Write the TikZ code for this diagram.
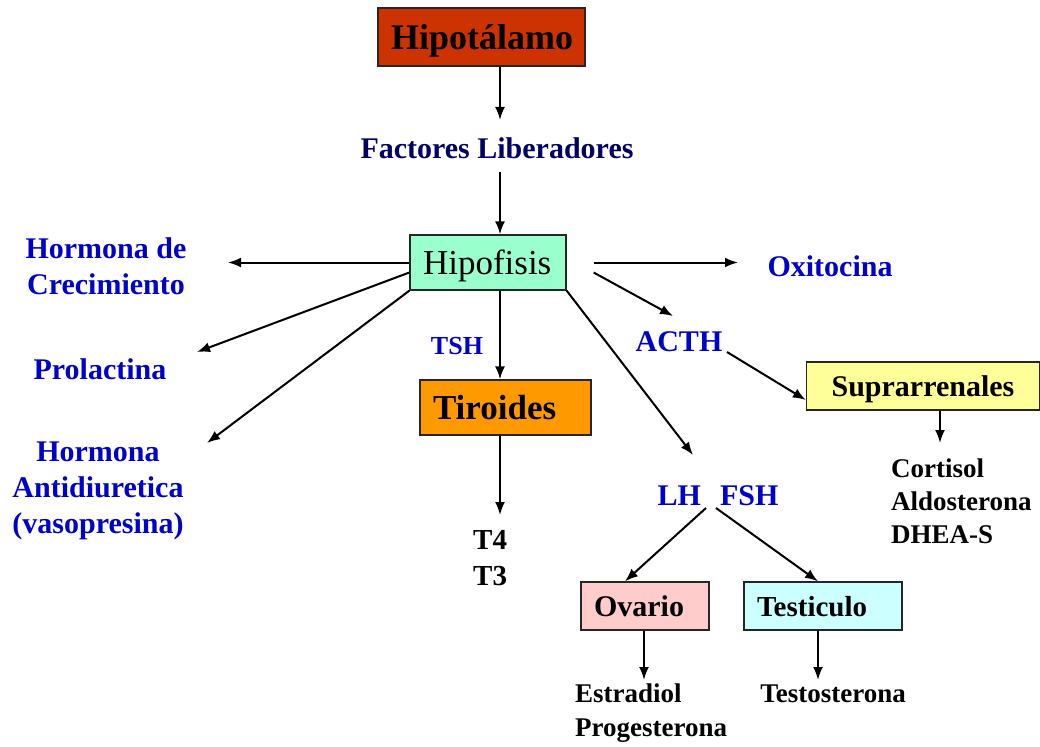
\documentclass[tikz,border=0pt]{standalone}
\usepackage{fontspec}
\setmainfont{Liberation Serif}
\usepackage{tikz}
\usetikzlibrary{positioning, arrows.meta}

\definecolor{hipotred}{HTML}{CC3300}
\definecolor{hipofgreen}{HTML}{99FFCC}
\definecolor{tiroorange}{HTML}{FF9900}
\definecolor{suprayellow}{HTML}{FFFF99}
\definecolor{ovariopink}{HTML}{FFCCCC}
\definecolor{testicyan}{HTML}{CCFFFF}
\definecolor{hormblue}{HTML}{0000CC}
\definecolor{factnavy}{HTML}{000066}

\begin{document}
\begin{tikzpicture}[
    x=1pt, y=-1pt,
    box/.style={draw=black!85, line width=1.3pt, inner xsep=13pt, inner ysep=0pt, text depth=0pt, align=left},
    hlbl/.style={text=hormblue, font=\fontsize{30}{36}\selectfont\bfseries, align=center, inner sep=0pt},
    prod/.style={text=black, font=\fontsize{27}{33}\selectfont\bfseries, align=left, inner sep=0pt},
    arr/.style={-{Latex[length=13pt, width=10pt]}, line width=2pt, black},
]
\useasboundingbox (0,0) rectangle (1040,746);

% Hipotalamo
\node[box, fill=hipotred, text width=181pt, minimum height=58pt, font=\fontsize{36}{40}\selectfont\bfseries] (hipot) at (481.5,37) {Hipotálamo};

% Hipofisis
\node[box, fill=hipofgreen, text width=130pt, minimum height=55pt, font=\fontsize{35}{40}\selectfont] (hipof) at (488,262.5) {Hipofisis};

% Tiroides
\node[box, fill=tiroorange, text width=145pt, minimum height=55pt, font=\fontsize{35}{40}\selectfont\bfseries] (tiro) at (505.5,407.5) {Tiroides};

% glandulas
\node[box, fill=suprayellow, text width=207pt, minimum height=48pt, align=center, font=\fontsize{30}{36}\selectfont\bfseries] (supra) at (923,386) {Suprarrenales};
\node[box, fill=ovariopink, text width=102pt, minimum height=48pt, font=\fontsize{30}{36}\selectfont\bfseries] (ovario) at (645,606) {Ovario};
\node[box, fill=testicyan, text width=132pt, minimum height=48pt, font=\fontsize{29}{36}\selectfont\bfseries] (testi) at (823,606) {Testiculo};

% hormonas
\node[hlbl, text=factnavy] (factores) at (497,148) {Factores Liberadores};
\node[hlbl] (gh) at (106,266) {Hormona de\\Crecimiento};
\node[hlbl] (prl) at (100,369) {Prolactina};
\node[hlbl] (adh) at (98,491) {Hormona\\Antidiuretica\\(vasopresina)};
\node[hlbl, font=\fontsize{26}{30}\selectfont\bfseries] (tsh) at (457,346) {TSH};
\node[hlbl] (acth) at (679,342) {ACTH};
\node[hlbl] (oxi) at (830,266) {Oxitocina};
\node[hlbl] (lhfsh) at (718,496) {LH\hspace{19pt}FSH};

% productos
\node[prod, font=\fontsize{29}{36}\selectfont\bfseries, anchor=west] (t4) at (473,558) {T4\\T3};
\node[prod, anchor=west] (cort) at (891,501) {Cortisol\\Aldosterona\\DHEA-S};
\node[prod, font=\fontsize{27}{34}\selectfont\bfseries, anchor=west] (estr) at (575,713) {Estradiol\\Progesterona};
\node[prod] (testo) at (833,694) {Testosterona};

% puntos libres
\coordinate (axis) at (500,0);
\coordinate (flin) at (500,120);
\coordinate (flout) at (500,172);
\coordinate (ghin) at (228,262.5);
\coordinate (prlin) at (197,352);
\coordinate (adhin) at (207,443);
\coordinate (oxiin) at (738,262.5);
\coordinate (acthin) at (673,316);
\coordinate (acthout) at (727,352);
\coordinate (lhin) at (693,455);
\coordinate (lhout) at (706,508);
\coordinate (fshout) at (716,508);
\coordinate (cortin) at (940,443);
\coordinate (t4in) at (500,515);
\coordinate (estrin) at (644,680);
\coordinate (testoin) at (818,680);

% flechas
\draw[arr] (hipot.south -| axis) -- (flin);
\draw[arr] (flout) -- (hipof.north -| axis);
\draw[arr] (hipof.west) -- (ghin);
\draw[arr] ([yshift=-10pt]hipof.west) -- (prlin);
\draw[arr] (hipof.south west) -- (adhin);
\draw[arr] (hipof.south -| axis) -- (tiro.north -| axis);
\draw[arr] ([xshift=27pt]hipof.east) -- (oxiin);
\draw[arr] ([xshift=27pt, yshift=-10pt]hipof.east) -- (acthin);
\draw[arr] (hipof.south east) -- (lhin);
\draw[arr] (acthout) -- ([yshift=-14pt]supra.west);
\draw[arr] ([xshift=17pt]supra.south) -- (cortin);
\draw[arr] (tiro.south -| axis) -- (t4in);
\draw[arr] (lhout) -- ([xshift=-20pt]ovario.north);
\draw[arr] (fshout) -- ([xshift=-5pt]testi.north);
\draw[arr] ([xshift=-1pt]ovario.south) -- (estrin);
\draw[arr] ([xshift=-5pt]testi.south) -- (testoin);

\end{tikzpicture}
\end{document}
